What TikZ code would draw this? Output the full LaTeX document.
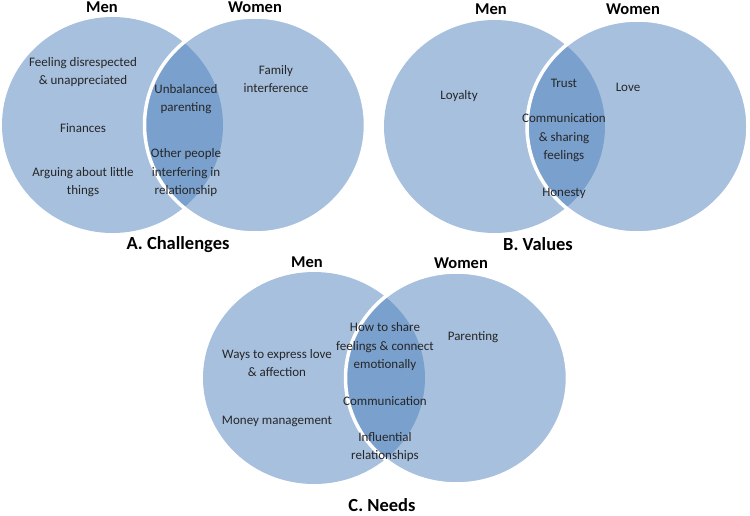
\documentclass[tikz,border=0pt]{standalone}
\usepackage{fontspec}
\setmainfont{Carlito}
\definecolor{venn}{RGB}{79,129,189}
\begin{document}
\begin{tikzpicture}[x=1pt,y=-1pt,
  lbl/.style={font=\fontsize{13}{18.5}\selectfont, align=center, inner sep=0pt, text=black!85},
  ttl/.style={font=\fontsize{16.5}{20}\selectfont\bfseries, inner sep=0pt, anchor=base},
  big/.style={font=\fontsize{18.5}{22}\selectfont\bfseries, inner sep=0pt, anchor=base},
  setL/.style={fill=venn, fill opacity=0.5, draw=none},
  setR/.style={fill=venn, fill opacity=0.5, draw=white, line width=3.5pt}]
\useasboundingbox (0,0) rectangle (750,516);
% A
\path[setL] (112.5,125) ellipse [x radius=110.5, y radius=108];
\path[setR] (255,125) ellipse [x radius=110.5, y radius=108];
% B
\path[setL] (494.5,126.5) ellipse [x radius=110.5, y radius=106.5];
\path[setR] (637.5,126.5) ellipse [x radius=110.5, y radius=106.5];
% C
\path[setL] (314,378) ellipse [x radius=111, y radius=106];
\path[setR] (456.5,378) ellipse [x radius=111, y radius=106];

% A texts
\node[ttl] (aMen) at (102,13) {Men};
\node[ttl] (aWomen) at (255,13) {Women};
\node[lbl] (a1) at (83,72) {Feeling disrespected\\\& unappreciated};
\node[lbl] (a2) at (83,128) {Finances};
\node[lbl] (a3) at (83,182) {Arguing about little\\things};
\node[lbl] (a4) at (186,99) {Unbalanced\\parenting};
\node[lbl] (a5) at (186,173) {Other people\\interfering in\\relationship};
\node[lbl] (a6) at (276,79) {Family\\interference};
\node[big] (aT) at (178,249) {A. Challenges};

% B texts
\node[ttl] (bMen) at (491,15) {Men};
\node[ttl] (bWomen) at (633,15) {Women};
\node[lbl] (b1) at (459,96) {Loyalty};
\node[lbl] (b2) at (564,83) {Trust};
\node[lbl] (b3) at (628,87) {Love};
\node[lbl] (b4) at (564,138) {Communication\\\& sharing\\feelings};
\node[lbl] (b5) at (564,193) {Honesty};
\node[big] (bT) at (538,250) {B. Values};

% C texts
\node[ttl] (cMen) at (307,267) {Men};
\node[ttl] (cWomen) at (461,268) {Women};
\node[lbl] (c1) at (277,363) {Ways to express love\\\& affection};
\node[lbl] (c2) at (277,421) {Money management};
\node[lbl] (c3) at (385,347) {How to share\\feelings \& connect\\emotionally};
\node[lbl] (c4) at (473,337) {Parenting};
\node[lbl] (c5) at (385,401) {Communication};
\node[lbl] (c6) at (385,447) {Influential\\relationships};
\node[big] (cT) at (382,511) {C. Needs};
\end{tikzpicture}
\end{document}
